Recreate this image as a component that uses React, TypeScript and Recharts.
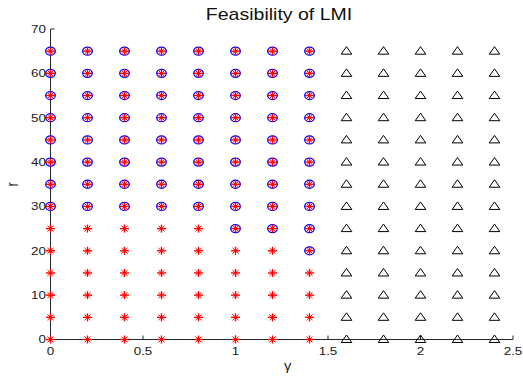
import { ScatterChart, Scatter, XAxis, YAxis } from "recharts";

// grid of (gamma, r) pairs that were checked
const gammaGrid = [0, 0.2, 0.4, 0.6, 0.8, 1, 1.2, 1.4];
const rGrid = [0, 5, 10, 15, 20, 25, 30, 35, 40, 45, 50, 55, 60, 65];
// smallest r at which the LMI turned out feasible, per gamma in gammaGrid
const firstFeasibleR = [30, 30, 30, 30, 30, 25, 25, 20];
// gamma values where nothing was solved
const skippedGammas = [1.6, 1.8, 2, 2.2, 2.4];

const xTicks = [0, 0.5, 1, 1.5, 2, 2.5];
const yTicks = [0, 10, 20, 30, 40, 50, 60, 70];

const searchedPoints = gammaGrid.flatMap((gamma) => rGrid.map((r) => ({ gamma, r })));
const feasiblePoints = gammaGrid.flatMap((gamma, i) =>
  rGrid.filter((r) => r >= firstFeasibleR[i]).map((r) => ({ gamma, r }))
);
const skippedPoints = skippedGammas.flatMap((gamma) => rGrid.map((r) => ({ gamma, r })));

const FONT = "'Liberation Sans', Arial, sans-serif";
const AXIS = "#262626";
const SX = 1.22; // text is a bit wide in this figure

const Star = ({ cx, cy }: any) => (
  <g stroke="#ff0000">
    <line x1={cx - 4.5} y1={cy} x2={cx + 4.5} y2={cy} strokeWidth={1.4} />
    <line x1={cx} y1={cy - 4} x2={cx} y2={cy + 4} strokeWidth={1.4} />
    <line x1={cx - 3} y1={cy - 2.8} x2={cx + 3} y2={cy + 2.8} strokeWidth={1} />
    <line x1={cx - 3} y1={cy + 2.8} x2={cx + 3} y2={cy - 2.8} strokeWidth={1} />
  </g>
);

const Ring = ({ cx, cy }: any) => (
  <ellipse cx={cx} cy={cy} rx={4.8} ry={4} fill="none" stroke="#0000ff" strokeWidth={1.3} />
);

const Triangle = ({ cx, cy }: any) => (
  <polygon
    points={`${cx},${cy - 4.5} ${cx + 5.3},${cy + 3} ${cx - 5.3},${cy + 3}`}
    fill="none"
    stroke="#000"
    strokeWidth={1}
  />
);

const XTick = ({ x, y, payload }: any) => (
  <g transform={`translate(${x},${y}) scale(${SX},1)`}>
    <text textAnchor="middle" dy="0.71em" fontSize={11} fill="#1a1a1a" fontFamily={FONT}>
      {payload.value}
    </text>
  </g>
);

const YTick = ({ x, y, payload }: any) => (
  <g transform={`translate(${x},${y}) scale(${SX},1)`}>
    <text textAnchor="end" dy="0.36em" fontSize={11} fill="#1a1a1a" fontFamily={FONT}>
      {payload.value}
    </text>
  </g>
);

const GammaLabel = ({ viewBox }: any) => (
  <g transform={`translate(${viewBox.x + viewBox.width / 2 + 6},${viewBox.y + 30.5}) scale(${SX},1)`}>
    <text textAnchor="middle" fontSize={12} fill="#1a1a1a" fontFamily={FONT}>
      γ
    </text>
  </g>
);

const RLabel = ({ viewBox }: any) => (
  <g
    transform={`translate(${viewBox.x + 17.5},${viewBox.y + viewBox.height / 2}) scale(${SX},1) rotate(-90)`}
  >
    <text textAnchor="middle" fontSize={13} fill="#1a1a1a" fontFamily={FONT}>
      r
    </text>
  </g>
);

export default function App() {
  return (
    <div style={{ position: "relative", width: 523, height: 383, background: "#fff" }}>
      <style>{`body { margin: 0; }`}</style>
      <svg width={523} height={30} style={{ position: "absolute", left: 0, top: 0 }}>
        <g transform={`translate(279,19.5) scale(${SX},1)`}>
          <text textAnchor="middle" fontSize={16} fill="#111" fontFamily={FONT}>
            Feasibility of LMI
          </text>
        </g>
      </svg>
      <ScatterChart
        width={523}
        height={383}
        margin={{ top: 29, right: 10, bottom: 0, left: 0.5 }}
        style={{ position: "absolute", left: 0, top: 0 }}
      >
        <XAxis
          type="number"
          dataKey="gamma"
          domain={[0, 2.5]}
          ticks={xTicks}
          height={43.5}
          stroke={AXIS}
          tickSize={-4}
          tickMargin={12}
          tick={<XTick />}
          label={<GammaLabel />}
        />
        <YAxis
          type="number"
          dataKey="r"
          domain={[0, 70]}
          ticks={yTicks}
          width={50}
          stroke={AXIS}
          tickSize={-4}
          tickMargin={8.5}
          tick={<YTick />}
          label={<RLabel />}
        />
        <Scatter data={feasiblePoints} shape={<Ring />} isAnimationActive={false} />
        <Scatter data={searchedPoints} shape={<Star />} isAnimationActive={false} />
        <Scatter data={skippedPoints} shape={<Triangle />} isAnimationActive={false} />
      </ScatterChart>
    </div>
  );
}
